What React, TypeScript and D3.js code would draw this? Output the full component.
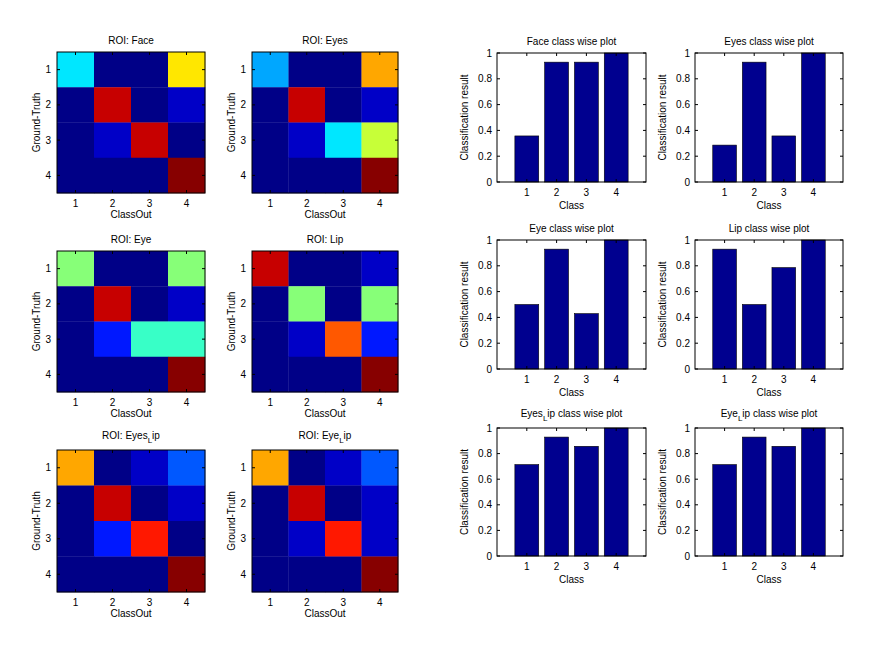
import React from "react";
import * as d3 from "d3";

// ---------- data ----------
const classLabels = ["1", "2", "3", "4"];
const yTickValues = [0, 0.2, 0.4, 0.6, 0.8, 1];

const faceMatrix = [[5, 0, 0, 9], [0, 13, 0, 1], [0, 1, 13, 0], [0, 0, 0, 14]];
const eyesMatrix = [[4, 0, 0, 10], [0, 13, 0, 1], [0, 1, 5, 8], [0, 0, 0, 14]];
const eyeMatrix = [[7, 0, 0, 7], [0, 13, 0, 1], [0, 2, 6, 6], [0, 0, 0, 14]];
const lipMatrix = [[13, 0, 0, 1], [0, 7, 0, 7], [0, 1, 11, 2], [0, 0, 0, 14]];
const eyesLipMatrix = [[10, 0, 1, 3], [0, 13, 0, 1], [0, 2, 12, 0], [0, 0, 0, 14]];
const eyeLipMatrix = [[10, 0, 1, 3], [0, 13, 0, 1], [0, 1, 12, 1], [0, 0, 0, 14]];

const faceAcc = [0.357, 0.929, 0.929, 1.0];
const eyesAcc = [0.286, 0.929, 0.357, 1.0];
const eyeAcc = [0.5, 0.929, 0.429, 1.0];
const lipAcc = [0.929, 0.5, 0.786, 1.0];
const eyesLipAcc = [0.714, 0.929, 0.857, 1.0];
const eyeLipAcc = [0.714, 0.929, 0.857, 1.0];

// title parts: [before, subscript, after]
const heatTitles: [string, string, string][] = [
  ["ROI: Face", "", ""],
  ["ROI: Eyes", "", ""],
  ["ROI: Eye", "", ""],
  ["ROI: Lip", "", ""],
  ["ROI: Eyes", "L", "ip"],
  ["ROI: Eye", "L", "ip"],
];
const barTitles: [string, string, string][] = [
  ["Face class wise plot", "", ""],
  ["Eyes class wise plot", "", ""],
  ["Eye class wise plot", "", ""],
  ["Lip class wise plot", "", ""],
  ["Eyes", "L", "ip class wise plot"],
  ["Eye", "L", "ip class wise plot"],
];
const matrices = [faceMatrix, eyesMatrix, eyeMatrix, lipMatrix, eyesLipMatrix, eyeLipMatrix];
const accuracies = [faceAcc, eyesAcc, eyeAcc, lipAcc, eyesLipAcc, eyeLipAcc];

// ---------- layout ----------
const heatCols = [[57, 205], [252, 398]];
const heatRows = [[52, 193], [251, 392], [450, 592]];
const barCols = [[497, 646], [695, 843]];
const barRows = [[53, 182], [240, 369], [428, 556]];

// MATLAB jet(64)
function jet64(): string[] {
  const m = 64;
  const out: string[] = [];
  for (let i = 0; i < m; i++) {
    const t = (i + 0.5) / m;
    const c = (v: number) => Math.max(0, Math.min(1, v));
    const r = c(1.5 - Math.abs(4 * t - 3));
    const g = c(1.5 - Math.abs(4 * t - 2));
    const b = c(1.5 - Math.abs(4 * t - 1));
    out.push(d3.rgb(r * 255, g * 255, b * 255).formatHex());
  }
  return out;
}
const JET = jet64();

const FONT = "Liberation Sans, Arial, sans-serif";
const FS = 10;

function Title({ x, y, parts }: { x: number; y: number; parts: [string, string, string] }) {
  const [a, sub, b] = parts;
  const dy = sub ? -3 : 0;
  return (
    <text x={x} y={y + dy} textAnchor="middle" fontSize={FS} fontFamily={FONT} fill="#000">
      {a}
      {sub && (
        <tspan dy={4} fontSize={8}>
          {sub}
        </tspan>
      )}
      {sub && <tspan dy={-4}>{b}</tspan>}
    </text>
  );
}

function Heatmap({ idx }: { idx: number }) {
  const col = idx % 2;
  const row = Math.floor(idx / 2);
  const [x0, x1] = heatCols[col];
  const [y0, y1] = heatRows[row];
  const mat = matrices[idx];
  const maxV = d3.max(mat.flat()) as number;
  const minV = d3.min(mat.flat()) as number;
  const color = d3.scaleQuantize<string>().domain([minV, maxV]).range(JET);
  const xs = d3.scaleLinear().domain([0.5, 4.5]).range([x0, x1]);
  const ys = d3.scaleLinear().domain([0.5, 4.5]).range([y0, y1]);
  const cells: JSX.Element[] = [];
  mat.forEach((r, i) =>
    r.forEach((v, j) => {
      cells.push(
        <rect
          key={`${i}-${j}`}
          x={xs(j + 0.5)}
          y={ys(i + 0.5)}
          width={xs(j + 1.5) - xs(j + 0.5) + 0.3}
          height={ys(i + 1.5) - ys(i + 0.5) + 0.3}
          fill={color(v)}
        />
      );
    })
  );
  const tl = 3;
  return (
    <g>
      {cells}
      <rect x={x0} y={y0} width={x1 - x0} height={y1 - y0} fill="none" stroke="#000" strokeWidth={1} />
      {classLabels.map((lab, k) => (
        <g key={k}>
          <line x1={xs(k + 1)} x2={xs(k + 1)} y1={y1} y2={y1 - tl} stroke="#000" />
          <line x1={xs(k + 1)} x2={xs(k + 1)} y1={y0} y2={y0 + tl} stroke="#000" />
          <line x1={x0} x2={x0 + tl} y1={ys(k + 1)} y2={ys(k + 1)} stroke="#000" />
          <line x1={x1} x2={x1 - tl} y1={ys(k + 1)} y2={ys(k + 1)} stroke="#000" />
          <text x={xs(k + 1)} y={y1 + 14} textAnchor="middle" fontSize={FS} fontFamily={FONT}>
            {lab}
          </text>
          <text x={x0 - 6} y={ys(k + 1) + 3.5} textAnchor="end" fontSize={FS} fontFamily={FONT}>
            {lab}
          </text>
        </g>
      ))}
      <text x={(x0 + x1) / 2} y={y1 + 25} textAnchor="middle" fontSize={FS} fontFamily={FONT}>
        ClassOut
      </text>
      <text
        transform={`translate(${x0 - 17},${(y0 + y1) / 2}) rotate(-90)`}
        textAnchor="middle"
        fontSize={FS}
        fontFamily={FONT}
      >
        Ground-Truth
      </text>
      <Title x={(x0 + x1) / 2} y={y0 - 8} parts={heatTitles[idx]} />
    </g>
  );
}

function BarChart({ idx }: { idx: number }) {
  const col = idx % 2;
  const row = Math.floor(idx / 2);
  const [x0, x1] = barCols[col];
  const [y0, y1] = barRows[row];
  const vals = accuracies[idx];
  const xs = d3.scaleLinear().domain([0, 5]).range([x0, x1]);
  const ys = d3.scaleLinear().domain([0, 1]).range([y1, y0]);
  const bw = 0.8;
  const tl = 3;
  return (
    <g>
      <rect x={x0} y={y0} width={x1 - x0} height={y1 - y0} fill="#fff" />
      {vals.map((v, k) => (
        <rect
          key={k}
          x={xs(k + 1 - bw / 2)}
          y={ys(v)}
          width={xs(k + 1 + bw / 2) - xs(k + 1 - bw / 2)}
          height={ys(0) - ys(v)}
          fill="#00008f"
          stroke="#000"
          strokeWidth={0.6}
        />
      ))}
      <rect x={x0} y={y0} width={x1 - x0} height={y1 - y0} fill="none" stroke="#000" strokeWidth={1} />
      {yTickValues.map((t) => (
        <g key={t}>
          <line x1={x0} x2={x0 + tl} y1={ys(t)} y2={ys(t)} stroke="#000" />
          <line x1={x1} x2={x1 - tl} y1={ys(t)} y2={ys(t)} stroke="#000" />
          <text x={x0 - 5} y={ys(t) + 3.5} textAnchor="end" fontSize={FS} fontFamily={FONT}>
            {d3.format("~g")(t)}
          </text>
        </g>
      ))}
      {classLabels.map((lab, k) => (
        <g key={k}>
          <line x1={xs(k + 1)} x2={xs(k + 1)} y1={y1} y2={y1 - tl} stroke="#000" />
          <line x1={xs(k + 1)} x2={xs(k + 1)} y1={y0} y2={y0 + tl} stroke="#000" />
          <text x={xs(k + 1)} y={y1 + 14} textAnchor="middle" fontSize={FS} fontFamily={FONT}>
            {lab}
          </text>
        </g>
      ))}
      <text x={(x0 + x1) / 2} y={y1 + 27} textAnchor="middle" fontSize={FS} fontFamily={FONT}>
        Class
      </text>
      <text
        transform={`translate(${x0 - 29},${(y0 + y1) / 2}) rotate(-90)`}
        textAnchor="middle"
        fontSize={FS}
        fontFamily={FONT}
      >
        Classification result
      </text>
      <Title x={(x0 + x1) / 2} y={y0 - 8} parts={barTitles[idx]} />
    </g>
  );
}

export default function App() {
  return (
    <svg
      width={888}
      height={666}
      style={{ position: "absolute", left: 0, top: 0, background: "#fff" }}
    >
      <rect width={888} height={666} fill="#fff" />
      {matrices.map((_, i) => (
        <Heatmap key={`h${i}`} idx={i} />
      ))}
      {accuracies.map((_, i) => (
        <BarChart key={`b${i}`} idx={i} />
      ))}
    </svg>
  );
}
